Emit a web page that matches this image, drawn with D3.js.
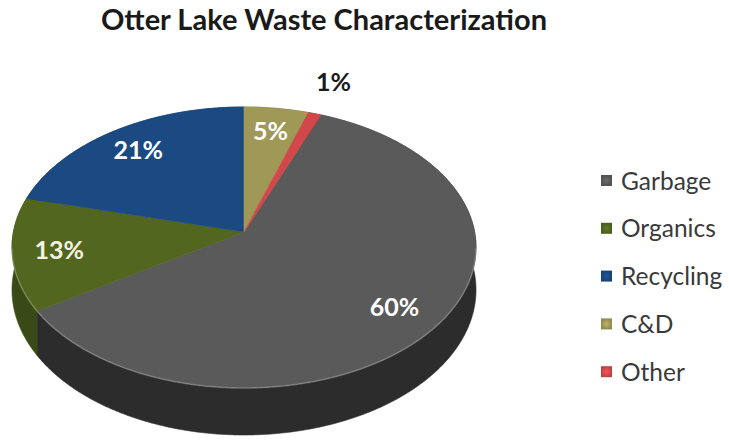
<!DOCTYPE html>
<html>
<head>
<meta charset="utf-8">
<script src="https://cdn.jsdelivr.net/npm/d3@7"></script>
<style>
  body { margin: 0; background: #fff; }
  svg { display: block; }
</style>
</head>
<body>
<svg id="chart" width="729" height="440"></svg>
<script>
// Waste stream shares, in legend order (clockwise around the pie)
const categories = ["Garbage", "Organics", "Recycling", "C&D", "Other"];
const shares = [60, 13, 21, 5, 1];
const labelText = ["60%", "13%", "21%", "5%", "1%"];
const topColors = ["#5a5a5a", "#52661f", "#1b4a82", "#a09857", "#d2474a"];
const sideColors = ["#2c2c2c", "#3a4a16", "#10325c", "#6e683a", "#8e2c2c"];
const title = "Otter Lake Waste Characterization";

const svg = d3.select("#chart");

// Tilted disc: a projective map of the unit circle onto the page,
// nearer (front) half drawn larger than the far half.
const cx = 244, cy = 232;     // pie apex
const rx = 230.6, ry = 138.8; // horizontal / vertical radii
const persp = 0.1103;         // perspective strength
const thickness = 41.8;       // extrusion height
const firstSliceAngle = 21.6 * Math.PI / 180;

function project(theta, r = 1, drop = 0) {
  const u = r * Math.sin(theta);
  const v = -r * Math.cos(theta);
  const w = 1 - persp * v;
  return [cx + rx * u / w, cy + (ry * v + drop) / w];
}

const pie = d3.pie()
  .sort(null)
  .value(d => d)
  .startAngle(firstSliceAngle)
  .endAngle(firstSliceAngle + 2 * Math.PI);
const arcs = pie(shares);

function arcSamples(a0, a1) {
  const n = Math.max(4, Math.ceil((a1 - a0) / 0.01));
  return d3.range(n + 1).map(i => a0 + (a1 - a0) * i / n);
}

const line = d3.line();

// side walls first; the top faces cover the far part of them
const walls = svg.append("g");
arcs.forEach((a, i) => {
  const ts = arcSamples(a.startAngle, a.endAngle);
  const pts = ts.map(t => project(t, 1, 0))
    .concat(ts.slice().reverse().map(t => project(t, 1, thickness)));
  walls.append("path")
    .attr("d", line(pts) + "Z")
    .attr("fill", sideColors[i])
    .attr("stroke", sideColors[i])
    .attr("stroke-width", 0.6);
});

// top faces
const tops = svg.append("g");
arcs.forEach((a, i) => {
  const ts = arcSamples(a.startAngle, a.endAngle);
  const pts = [[cx, cy]].concat(ts.map(t => project(t)));
  tops.append("path")
    .attr("d", line(pts) + "Z")
    .attr("fill", topColors[i])
    .attr("stroke", topColors[i])
    .attr("stroke-width", 0.6);
});

// soft highlight along the near rim
const rim = arcSamples(Math.PI / 2 + 0.12, 3 * Math.PI / 2 - 0.12).map(t => project(t));
svg.append("path")
  .attr("d", line(rim))
  .attr("fill", "none")
  .attr("stroke", "rgba(255,255,255,0.22)")
  .attr("stroke-width", 1.6);

// data labels: inside the slice, or just outside it for very thin slices
const labels = svg.append("g")
  .attr("font-family", "Lato, 'Open Sans', sans-serif")
  .attr("font-weight", "bold")
  .attr("font-size", 25)
  .attr("text-anchor", "middle");
arcs.forEach((a, i) => {
  const mid = (a.startAngle + a.endAngle) / 2;
  const outside = a.data < 3;
  const [x, y] = project(mid, outside ? 1.3 : 0.8);
  labels.append("text")
    .attr("x", x)
    .attr("y", y)
    .attr("dy", "0.36em")
    .attr("fill", outside ? "#1a1a1a" : (i === 1 ? "#f3f3e2" : "#ffffff"))
    .text(labelText[i]);
});

// title
svg.append("text")
  .attr("x", 324)
  .attr("y", 30)
  .attr("text-anchor", "middle")
  .attr("font-family", "Lato, 'Open Sans', sans-serif")
  .attr("font-weight", "bold")
  .attr("font-size", 29)
  .attr("fill", "#1a1a1a")
  .text(title);

// legend
const legendTop = 181, legendStep = 47.8;
const legend = svg.append("g")
  .attr("font-family", "Lato, 'Open Sans', sans-serif")
  .attr("font-size", 24.5)
  .attr("fill", "#3a3a3a");
const defs = svg.append("defs");
categories.forEach((name, i) => {
  const y = legendTop + i * legendStep;
  const g = legend.append("g").attr("transform", `translate(601,${y})`);
  const gid = "lg" + i;
  const grad = defs.append("radialGradient").attr("id", gid);
  grad.append("stop").attr("offset", "0%").attr("stop-color", d3.color(topColors[i]).brighter(0.5));
  grad.append("stop").attr("offset", "100%").attr("stop-color", d3.color(topColors[i]).darker(0.3));
  g.append("rect")
    .attr("x", 0).attr("y", -6)
    .attr("width", 11).attr("height", 11)
    .attr("fill", `url(#${gid})`);
  g.append("text")
    .attr("x", 20)
    .attr("y", 0)
    .attr("dy", "0.35em")
    .text(name);
});
</script>
</body>
</html>
